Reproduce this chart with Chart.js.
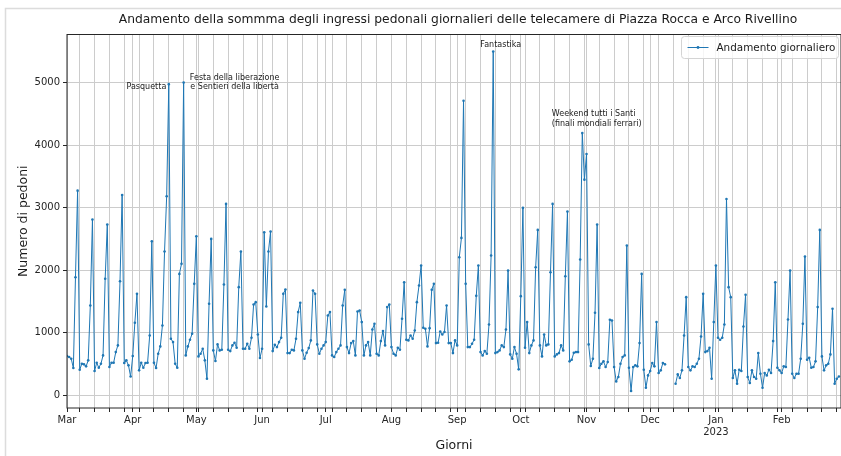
<!DOCTYPE html>
<html>
<head>
<meta charset="utf-8">
<script src="https://cdn.jsdelivr.net/npm/chart.js@4.4.0/dist/chart.umd.min.js"></script>
<style>
  html, body { margin: 0; padding: 0; background: #fff; }
  canvas { display: block; }
</style>
</head>
<body>
<canvas id="chart" width="841" height="456" style="width:841px;height:456px"></canvas>
<script>
// daily totals, 1 Mar 2022 -> 28 Feb 2023 (null = no data)
const startDate = '2022-03-01';
const dailyValues = [
  628, 612, 585, 436, 1888, 3271, 410,
  505, 495, 463, 559, 1436, 2808, 388,
  521, 441, 505, 638, 1862, 2729, 452,
  521, 521, 691, 798, 1824, 3202, 516,
  559, 479, 300, 628, 1160, 1622, 399,
  521, 441, 516, 521, 957, 2463, 521,
  436, 665, 782, 1117, 2298, 3181, 4973,
  904, 851, 505, 441, 1941, 2101, 5000,
  638, 782, 888, 984, 1782, 2543, 622,
  665, 745, 559, 266, 1463, 2500, 718,
  548, 814, 718, 729, 1771, 3059, 729,
  707, 798, 840, 761, 1729, 2298, 745,
  745, 824, 745, 920, 1452, 1489, 973,
  596, 745, 2606, 1420, 2298, 2617, 707,
  809, 771, 851, 920, 1622, 1691, 675,
  675, 729, 718, 904, 1330, 1479, 718,
  585, 681, 755, 878, 1676, 1622, 814,
  665, 745, 798, 851, 1277, 1330, 638,
  612, 691, 745, 798, 1436, 1686, 771,
  675, 835, 867, 638, 1340, 1356, 1170,
  638, 798, 851, 638, 1053, 1144, 665,
  638, 867, 1027, 798, 1410, 1452, 771,
  665, 638, 761, 729, 1223, 1808, 888,
  878, 957, 904, 1037, 1489, 1755, 2074,
  1080, 1064, 782, 1074, 1686, 1782, 835,
  840, 1021, 973, 1011, 1436, 835, 835,
  675, 878, 798, 2207, 2516, 4707, 1782,
  771, 771, 824, 888, 1590, 2074, 691,
  638, 707, 665, 1133, 2234, 5495, 675,
  691, 718, 798, 771, 1053, 1995, 654,
  585, 771, 665, 415, 1585, 2995, 761,
  1170, 675, 798, 878, 2048, 2644, 798,
  622, 973, 798, 814, 1968, 3059, 622,
  654, 675, 798, 718, 1904, 2936, 543,
  569, 681, 691, 691, 2170, 4191, 3447,
  3856, 814, 468, 585, 1319, 2729, 436,
  505, 543, 452, 532, 1207, 1197, 452,
  223, 293, 505, 612, 638, 2394, 441,
  69, 452, 479, 463, 835, 1941, 410,
  122, 319, 388, 516, 463, 1170, 356,
  399, 516, 495, null, null, null, null,
  186, 335, 277, 399, 957, 1569, 452,
  399, 463, 452, 505, 585, 941, 1622,
  691, 707, 761, 266, 1170, 2074, 920,
  888, 920, 1133, 3138, 1729, 1569, 277,
  399, 186, 410, 388, 1101, 1606, 293,
  197, 399, 293, 266, 676, 346, 122,
  356, 319, 410, 356, 867, 1808, 441,
  399, 356, 463, 452, 1213, 1995, 346,
  277, 346, 346, 585, 1144, 2218, 569,
  601, 441, 452, 543, 1410, 2644, 622,
  399, 479, 505, 654, 1383, 186, 266,
  300
];
const endDate = '2023-03-01';

const monthStarts = ['2022-03-01', '2022-04-01', '2022-05-01', '2022-06-01', '2022-07-01', '2022-08-01',
                     '2022-09-01', '2022-10-01', '2022-11-01', '2022-12-01', '2023-01-01', '2023-02-01'];
const monthLabels = ['Mar', 'Apr', 'May', 'Jun', 'Jul', 'Aug', 'Sep', 'Oct', 'Nov', 'Dec', 'Jan', 'Feb'];
const yearLabelMonth = 'Jan';
const yearLabel = '2023';
const yTicks = [0, 1000, 2000, 3000, 4000, 5000];

const eventDates = ['2022-04-18', '2022-04-25', '2022-09-18', '2022-10-30'];
const eventTexts = [
  ['Pasquetta'],
  ['Festa della liberazione', 'e Sentieri della libertà'],
  ['Fantastika'],
  ['Weekend tutti i Santi', '(finali mondiali ferrari)']
];

const titleText = 'Andamento della sommma degli ingressi pedonali giornalieri delle telecamere di Piazza Rocca e Arco Rivellino';
const legendText = 'Andamento giornaliero';

const FONT = 'DejaVu Sans';
const LINE_COLOR = '#1f77b4';

const dayMs = 24 * 60 * 60 * 1000;
const t0 = Date.parse(startDate + 'T00:00:00Z');
const dayIndex = (s) => Math.round((Date.parse(s + 'T00:00:00Z') - t0) / dayMs);
const lastDay = dailyValues.length - 1;

const points = dailyValues.map((v, i) => ({ x: i, y: v }));

// major ticks at month starts, minor ticks on mondays
const majorIdx = monthStarts.map(dayIndex);
const mondayIdx = [];
for (let i = 0; i <= lastDay; i++) {
  const wd = new Date(t0 + i * dayMs).getUTCDay();
  if (wd === 1 && !majorIdx.includes(i)) mondayIdx.push(i);
}

const valid = dailyValues.filter(v => v !== null);
const vMin = Math.min(...valid), vMax = Math.max(...valid);
const pad = (vMax - vMin) * 0.05;

// text placement for the event labels, relative to the data point
const eventPlacement = [
  { align: 'right', dx: -2.5, dy: 2.5, gap: 9 },
  { align: 'center', dx: 51, dy: -5, gap: 9 },
  { align: 'center', dx: 7.5, dy: -7, gap: 9 },
  { align: 'left', dx: -30.5, dy: -19.5, gap: 10 }
];

const decorPlugin = {
  id: 'decor',
  beforeDraw(chart) {
    const ctx = chart.ctx;
    ctx.save();
    ctx.fillStyle = '#fff';
    ctx.fillRect(0, 0, chart.width, chart.height);
    ctx.strokeStyle = '#dcdcdc';
    ctx.lineWidth = 1.5;
    ctx.beginPath();
    ctx.moveTo(5.5, chart.height);
    ctx.lineTo(5.5, 8.5);
    ctx.lineTo(chart.width, 8.5);
    ctx.stroke();

    ctx.fillStyle = '#1a1a1a';
    ctx.font = '12.3px "' + FONT + '"';
    ctx.textAlign = 'center';
    ctx.textBaseline = 'middle';
    ctx.fillText(titleText, 458, 20);
    ctx.restore();
  },
  afterDraw(chart) {
    const ctx = chart.ctx;
    const a = chart.chartArea;
    const xs = chart.scales.x, ys = chart.scales.y;
    ctx.save();

    // axes frame
    ctx.strokeStyle = '#262626';
    ctx.lineWidth = 1;
    ctx.strokeRect(a.left, a.top, a.right - a.left, a.bottom - a.top);

    // event labels
    ctx.fillStyle = '#1a1a1a';
    ctx.font = '8px "' + FONT + '"';
    ctx.textBaseline = 'middle';
    eventDates.forEach((d, k) => {
      const i = dayIndex(d);
      const px = xs.getPixelForValue(i);
      const py = ys.getPixelForValue(dailyValues[i]);
      const p = eventPlacement[k];
      ctx.textAlign = p.align;
      eventTexts[k].forEach((line, j) => {
        ctx.fillText(line, px + p.dx, py + p.dy + j * p.gap);
      });
    });

    // legend box
    const bx = 681.5, by = 36.5, bw = 157, bh = 22;
    ctx.fillStyle = 'rgba(255,255,255,0.8)';
    ctx.strokeStyle = '#d4d4d4';
    ctx.lineWidth = 1;
    ctx.beginPath();
    ctx.roundRect(bx, by, bw, bh, 3);
    ctx.fill();
    ctx.stroke();
    const ly = by + bh / 2;
    ctx.strokeStyle = LINE_COLOR;
    ctx.lineWidth = 1;
    ctx.beginPath();
    ctx.moveTo(bx + 6, ly);
    ctx.lineTo(bx + 27, ly);
    ctx.stroke();
    ctx.fillStyle = LINE_COLOR;
    ctx.beginPath();
    ctx.arc(bx + 16.5, ly, 1.4, 0, Math.PI * 2);
    ctx.fill();
    ctx.fillStyle = '#1a1a1a';
    ctx.font = '10.4px "' + FONT + '"';
    ctx.textAlign = 'left';
    ctx.fillText(legendText, bx + 35, ly + 0.5);
    ctx.restore();
  }
};

new Chart(document.getElementById('chart'), {
  type: 'line',
  data: {
    datasets: [{
      label: legendText,
      data: points,
      borderColor: LINE_COLOR,
      backgroundColor: LINE_COLOR,
      borderWidth: 1,
      pointRadius: 1.3,
      pointBorderWidth: 0,
      pointBackgroundColor: LINE_COLOR,
      spanGaps: false,
      tension: 0
    }]
  },
  options: {
    responsive: false,
    animation: false,
    events: [],
    layout: { autoPadding: false, padding: { left: 0, right: -0.4, top: 34.5, bottom: 0 } },
    plugins: {
      legend: { display: false },
      tooltip: { enabled: false },
      title: { display: false }
    },
    scales: {
      x: {
        type: 'linear',
        min: 0,
        max: dayIndex(endDate),
        afterFit: (s) => { s.height = 48; s.paddingLeft = 0; s.paddingRight = 0; },
        afterBuildTicks: (s) => {
          const all = majorIdx.map(v => ({ value: v, major: true }))
            .concat(mondayIdx.map(v => ({ value: v, major: false })));
          all.sort((p, q) => p.value - q.value);
          s.ticks = all;
        },
        ticks: {
          autoSkip: false,
          maxRotation: 0,
          padding: 2,
          color: '#262626',
          font: { family: FONT, size: 10 },
          callback: (value) => {
            const k = majorIdx.indexOf(value);
            if (k < 0) return '';
            return monthLabels[k] === yearLabelMonth ? [monthLabels[k], yearLabel] : monthLabels[k];
          }
        },
        grid: {
          color: '#cccccc',
          lineWidth: 1,
          drawTicks: true,
          tickLength: 4,
          tickColor: '#262626'
        },
        border: { display: false },
        title: {
          display: true,
          text: 'Giorni',
          color: '#1a1a1a',
          font: { family: FONT, size: 12.5 },
          padding: { top: 0, bottom: 2.5 }
        }
      },
      y: {
        min: vMin - pad,
        max: vMax + pad,
        afterFit: (s) => { s.width = 67; },
        afterBuildTicks: (s) => { s.ticks = yTicks.map(v => ({ value: v })); },
        ticks: {
          padding: 3,
          color: '#262626',
          font: { family: FONT, size: 10 },
          callback: (value) => String(value)
        },
        grid: {
          color: '#cccccc',
          lineWidth: 1,
          tickLength: 4,
          tickColor: '#262626'
        },
        border: { display: false },
        title: {
          display: true,
          text: 'Numero di pedoni',
          color: '#1a1a1a',
          font: { family: FONT, size: 12.5 },
          padding: { top: 16, bottom: 0 }
        }
      }
    }
  },
  plugins: [decorPlugin]
});
</script>
</body>
</html>
